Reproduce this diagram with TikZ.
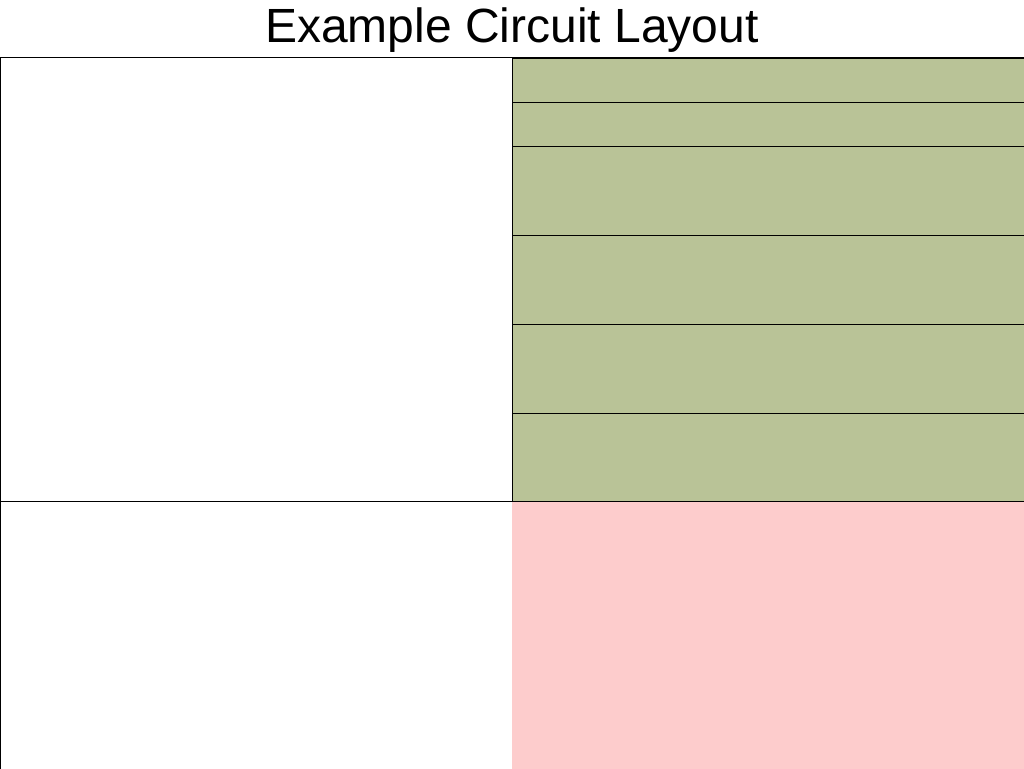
\documentclass[tikz,border=0pt]{standalone}
\usepackage{fontspec}
\setmainfont{Liberation Sans}
\usetikzlibrary{positioning}
\definecolor{slotgreen}{RGB}{185,195,151}
\definecolor{blush}{RGB}{253,204,204}

\begin{document}
\begin{tikzpicture}[
  x=1pt, y=-1pt,
  every node/.style={inner sep=0pt, outer sep=0pt},
  panel/.style={draw, line width=1pt, minimum width=512pt, anchor=north west},
  slot/.style={draw, line width=1pt, fill=slotgreen, minimum width=520pt, anchor=north west},
  pinkpanel/.style={fill=blush, minimum width=520pt, minimum height=280pt, anchor=north west}
]
\useasboundingbox (0,0) rectangle (1024,768);
\clip (0,0) rectangle (1024,768);
\node[font=\fontsize{48}{58}\selectfont, anchor=base] (title) at (512,42) {Example Circuit Layout};
% upper half: empty board on the left, stacked slots on the right
\node[panel, minimum height=443pt] (board) at (0,58) {};
\node[slot, minimum height=44pt] (slotA) at (512,58) {};
\node[slot, minimum height=44pt, below=0pt of slotA.south west, anchor=north west] (slotB) {};
\node[slot, minimum height=89pt, below=0pt of slotB.south west, anchor=north west] (slotC) {};
\node[slot, minimum height=89pt, below=0pt of slotC.south west, anchor=north west] (slotD) {};
\node[slot, minimum height=89pt, below=0pt of slotD.south west, anchor=north west] (slotE) {};
\node[slot, minimum height=88pt, below=0pt of slotE.south west, anchor=north west] (slotF) {};
% lower half
\node[minimum width=512pt, minimum height=280pt, anchor=north west] (lower) at (0,501) {};
\draw[line width=1pt] (lower.north west) -- (lower.south west);
\node[pinkpanel] (pinkzone) at ([yshift=-0.5pt]lower.north east) {};
\end{tikzpicture}
\end{document}
